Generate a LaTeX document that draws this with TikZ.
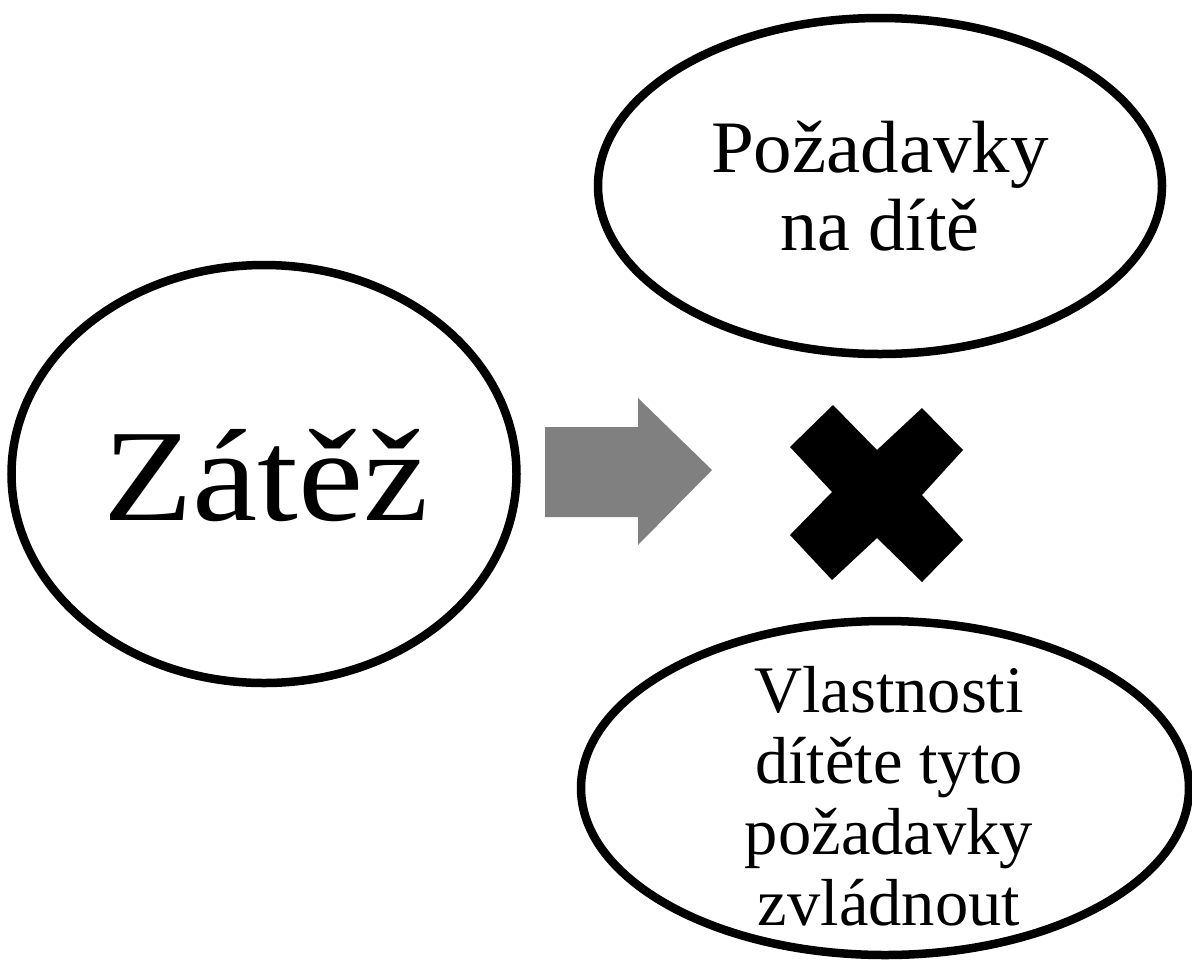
\documentclass[tikz,border=0pt]{standalone}
\usepackage{fontspec}
\setmainfont{Liberation Serif}
\usetikzlibrary{shapes.geometric}
\tikzset{
  oval/.style={ellipse, draw=black, line width=8.5pt, fill=white, inner sep=0pt},
  label text/.style={inner sep=0pt, outer sep=0pt, align=center, text=black},
}
\begin{document}
\begin{tikzpicture}[x=1pt,y=-1pt]
\useasboundingbox[fill=white] (0,0) rectangle (1192,970);
% ellipses
\node[oval, minimum width=505pt, minimum height=418pt] (zatez) at (264,474) {};
\node[oval, minimum width=564pt, minimum height=336pt] (pozadavky) at (880,186) {};
\node[oval, minimum width=608pt, minimum height=334pt] (vlastnosti) at (885,788) {};
% texts (anchor=base is the baseline of the last line)
\node[label text, anchor=base, font=\fontsize{131}{131}\selectfont] (zatezt) at (266,520) {\scalebox{1.12}[1]{Zátěž}};
\node[label text, anchor=base, font=\fontsize{74}{78}\selectfont] (pozt) at (880,250) {\scalebox{1.04}[1]{Požadavky}\\na dítě};
\node[label text, anchor=base, font=\fontsize{66.5}{71}\selectfont] (vlt) at (889,925) {Vlastnosti\\dítěte tyto\\požadavky\\zvládnout};
% block arrow
\fill[black!50] (545,427) -- (638,427) -- (638,398) -- (712,470) -- (638,545) -- (638,517) -- (545,517) -- cycle;
% cross
\fill[black] (790,447) -- (833,405) -- (877,450) -- (922,408) -- (963,450) -- (922,495) -- (963,540) -- (922,582) -- (877,538) -- (832,580) -- (790,535) -- (832,492) -- cycle;
\end{tikzpicture}
\end{document}
